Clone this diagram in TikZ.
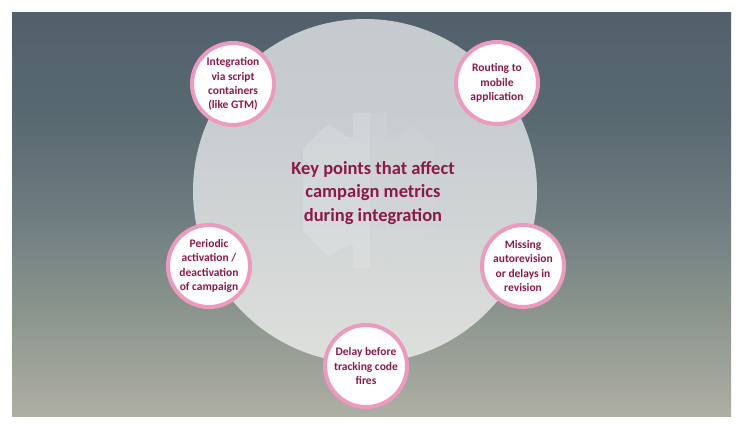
\documentclass[tikz,border=0pt]{standalone}
\usepackage{fontspec}
\setmainfont{Carlito}
\definecolor{maroon}{RGB}{139,26,74}
\definecolor{pinkring}{RGB}{234,155,190}
\definecolor{bgA}{RGB}{82,96,108}
\definecolor{bgB}{RGB}{88,104,112}
\definecolor{bgC}{RGB}{110,124,128}
\definecolor{bgD}{RGB}{140,150,142}
\definecolor{bgE}{RGB}{174,174,164}
\pgfdeclareverticalshading{bgshade}{100bp}{color(0bp)=(bgE); color(25bp)=(bgE); color(37.5bp)=(bgD); color(50bp)=(bgC); color(62.5bp)=(bgB); color(75bp)=(bgA); color(100bp)=(bgA)}
\tikzset{
  point/.style={circle, draw=pinkring, line width=4pt, fill=white, minimum size=82pt, inner sep=0pt,
    align=center, text=maroon, font=\fontsize{11.5}{14.3}\selectfont\bfseries},
  title/.style={align=center, text=maroon, inner sep=0pt, font=\fontsize{18.5}{23.5}\selectfont\bfseries}
}
\begin{document}
\begin{tikzpicture}[x=1pt,y=-1pt]
\useasboundingbox (0,0) rectangle (751,432);
\fill[white] (0,0) rectangle (751,432);
\shade[shading=bgshade] (12,12) rectangle (731,416);
% big circle
\fill[white, opacity=0.67] (365,191) circle (172);
% faint icon
\fill[white, opacity=0.15] (303,148) -- (328,124) -- (348,137) -- (353,137) -- (353,113) -- (387,113) -- (387,137) -- (395,137) -- (413,125) -- (435,148) -- (435,231) -- (410,257) -- (395,245) -- (387,245) -- (387,268) -- (353,268) -- (353,245) -- (348,245) -- (328,257) -- (303,231) -- cycle;
\fill[black, opacity=0.02] (370,113) -- (387,113) -- (387,137) -- (395,137) -- (413,125) -- (435,148) -- (435,231) -- (410,257) -- (395,245) -- (387,245) -- (387,268) -- (370,268) -- cycle;
\node[title] (main) at (373,193) {Key points that affect\\campaign metrics\\during integration};
\node[point] (p1) at (233,84) {Integration\\via script\\containers\\(like GTM)};
\node[point] (p2) at (497,83) {Routing to\\mobile\\application};
\node[point] (p3) at (209,266) {Periodic\\activation /\\deactivation\\of campaign};
\node[point] (p4) at (523,266) {Missing\\autorevision\\or delays in\\revision};
\node[point] (p5) at (366,366) {Delay before\\tracking code\\fires};
\end{tikzpicture}
\end{document}
